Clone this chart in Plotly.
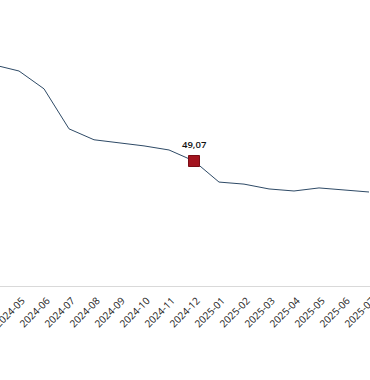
import plotly.graph_objects as go

months = ["2024-04", "2024-05", "2024-06", "2024-07", "2024-08", "2024-09", "2024-10",
          "2024-11", "2024-12", "2025-01", "2025-02", "2025-03", "2025-04", "2025-05",
          "2025-06", "2025-07"]
values = [86.8, 84.4, 77.4, 61.7, 57.4, 56.2, 55.0, 53.4, 49.07, 40.8, 40.0, 38.1,
          37.3, 38.5, 37.7, 36.9]
highlight_month = "2024-12"
highlight_value = 49.07
highlight_label = "49,07"

fig = go.Figure()
fig.add_trace(go.Scatter(
    x=months, y=values, mode="lines",
    line=dict(color="#2e4a66", width=1),
    hoverinfo="skip", showlegend=False,
))
fig.add_trace(go.Scatter(
    x=[highlight_month], y=[highlight_value], mode="markers",
    marker=dict(symbol="square", size=11, color="#a3141f",
                line=dict(color="#7a0d15", width=1)),
    showlegend=False,
))
fig.add_annotation(
    x=highlight_month, y=highlight_value, text=highlight_label,
    showarrow=False, yshift=17,
    font=dict(family="Open Sans, sans-serif", size=9.5, color="#111111", weight=600),
)

fig.update_layout(
    width=370, height=380,
    margin=dict(l=0, r=0, t=10, b=94, autoexpand=False),
    paper_bgcolor="white", plot_bgcolor="white",
    font=dict(family="Open Sans, sans-serif", size=10, color="#222222"),
    xaxis=dict(
        type="category", range=[0.24, 15.04], automargin=False,
        tickangle=-45, showgrid=False, zeroline=False,
        showline=True, linecolor="#d9d9d9", linewidth=1,
        ticks="", tickfont=dict(size=10, color="#1a1a1a"),
        ticklabelstandoff=4, ticklabelshift=3,
    ),
    yaxis=dict(
        range=[0, 108.35], visible=False, showgrid=False, zeroline=False,
        automargin=False,
    ),
)

fig.write_html(
    "out.html",
    config={"displayModeBar": False},
    post_script="document.body.style.margin='0';document.body.style.overflow='hidden';",
)
